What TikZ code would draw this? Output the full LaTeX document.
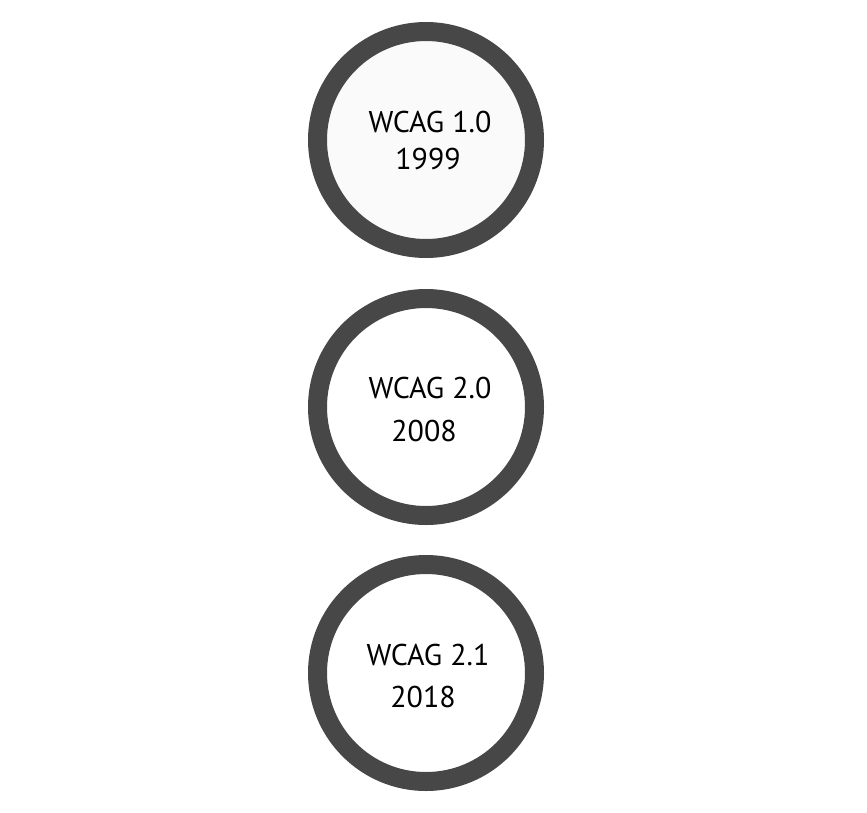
\documentclass[tikz,border=0pt]{standalone}
\usepackage{fontspec}
\setmainfont{PT Sans}
\usetikzlibrary{positioning}

\begin{document}
\begin{tikzpicture}[
  x=1pt,
  y=-1pt,
  ring/.style={circle,draw=black!72,line width=19pt,minimum size=217pt,inner sep=0pt},
  lab/.style={font=\fontsize{30}{36}\selectfont,inner sep=0pt}
]
\useasboundingbox (0,0) rectangle (867,812);
\node[ring,fill=black!2] (v10) at (426,140) {};
\node[ring,fill=white] (v20) at (426,407) {};
\node[ring,fill=white] (v21) at (426,673) {};
\node[lab] (n10) at (430,122) {WCAG 1.0};
\node[lab] (y10) at (428,159) {1999};
\node[lab] (n20) at (430,388) {WCAG 2.0};
\node[lab] (y20) at (424,431) {2008};
\node[lab] (n21) at (428,655) {WCAG 2.1};
\node[lab] (y21) at (423,697) {2018};
\end{tikzpicture}
\end{document}
